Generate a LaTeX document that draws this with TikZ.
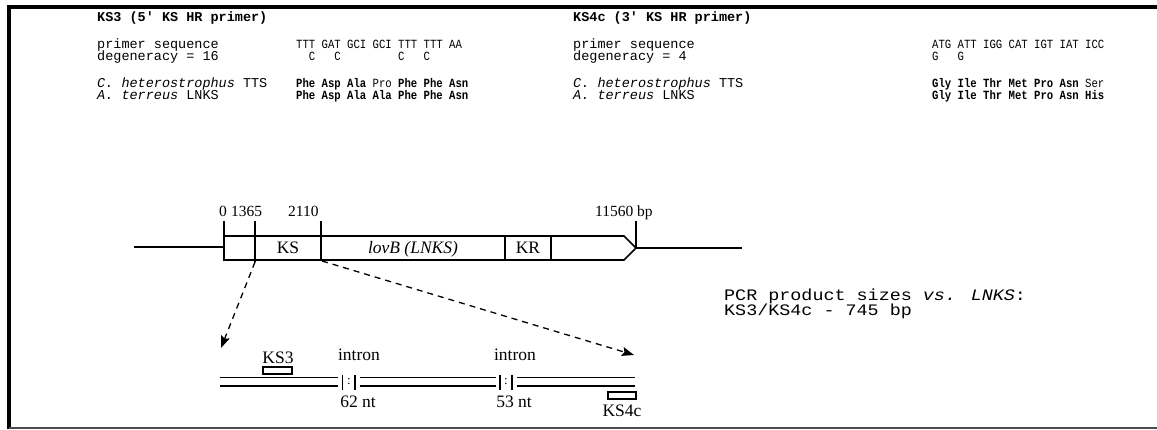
\documentclass[tikz,border=0pt]{standalone}
\usepackage{fontspec}
\setmainfont{Liberation Serif}
\newfontfamily\lmono{Liberation Mono}
\newfontfamily\smono{Liberation Mono}[FakeStretch=0.85]
\newfontfamily\wmono{Liberation Mono}[FakeStretch=1.15]
\usetikzlibrary{arrows.meta}
\begin{document}
\begin{tikzpicture}[x=1pt,y=-1pt,
  txt/.style={inner sep=0pt, anchor=base west},
  lab/.style={txt, font=\lmono\fontsize{13.5}{14}\selectfont},
  hdr/.style={txt, font=\lmono\bfseries\fontsize{13.5}{14}\selectfont},
  seq/.style={txt, font=\smono\fontsize{12.5}{14}\selectfont},
  pcr/.style={txt, font=\wmono\fontsize{16}{16}\selectfont},
  ser/.style={inner sep=0pt, anchor=base, font=\fontsize{17.5}{18}\selectfont},
  num/.style={inner sep=0pt, anchor=base west, font=\fontsize{15.5}{16}\selectfont},
  gene/.style={line width=1.6pt},
  strand/.style={line width=1.4pt},
  dasharrow/.style={line width=1.3pt, dash pattern=on 6pt off 5pt, -{Stealth[length=12pt,width=9pt,inset=2pt]}},
]
\useasboundingbox (0,0) rectangle (1157,430);
% frame
\draw[line width=4pt] (6.7,6.7) -- (1157,6.7);
\draw[line width=4pt] (8.7,4.7) -- (8.7,428.5);
\draw[line width=2pt, black!70] (8.7,427.7) -- (1157,427.7);

% left primer block
\node[hdr] (h1) at (97,22) {KS3 (5\textquotesingle{} KS HR primer)};
\node[lab] (p1) at (97,49) {primer sequence};
\node[lab] (d1) at (97,61) {degeneracy = 16};
\node[lab] (c1) at (97,88) {{\itshape C. heterostrophus} TTS};
\node[lab] (a1) at (97,100) {{\itshape A. terreus} LNKS};
\node[seq] (s1) at (296,49) {TTT GAT GCI GCI TTT TTT AA};
\node[seq] (e1) at (296,61) {\hphantom{TT}C\hphantom{TGA}C\hphantom{TGCIGCITT}C\hphantom{TTT}C};
\node[seq] (t1) at (296,88) {\bfseries Phe Asp Ala {\mdseries Pro} Phe Phe Asn};
\node[seq] (l1) at (296,100) {\bfseries Phe Asp Ala Ala Phe Phe Asn};

% right primer block
\node[hdr] (h2) at (573,22) {KS4c (3\textquotesingle{} KS HR primer)};
\node[lab] (p2) at (573,49) {primer sequence};
\node[lab] (d2) at (573,61) {degeneracy = 4};
\node[lab] (c2) at (573,88) {{\itshape C. heterostrophus} TTS};
\node[lab] (a2) at (573,100) {{\itshape A. terreus} LNKS};
\node[seq] (s2) at (932,49) {ATG ATT IGG CAT IGT IAT ICC};
\node[seq] (e2) at (932,61) {G\hphantom{TTA}G};
\node[seq] (t2) at (932,88) {\bfseries Gly Ile Thr Met Pro Asn {\mdseries Ser}};
\node[seq] (l2) at (932,100) {\bfseries Gly Ile Thr Met Pro Asn His};

% gene map
\coordinate (lineL) at (134,247);
\coordinate (boxL) at (224,247);
\coordinate (tip) at (636,248);
\coordinate (lineR) at (742,248);
\draw[gene] (lineL) -- (boxL);
\draw[gene] (tip) -- (lineR);
\draw[gene] (224,236) -- (624,236) -- (tip) -- (624,260) -- (224,260) -- cycle;
\draw[gene] (224,221) -- (224,236);
\draw[gene] (255,221) -- (255,262);
\draw[gene] (321,221) -- (321,260);
\draw[gene] (505,236) -- (505,260);
\draw[gene] (551,236) -- (551,260);
\draw[gene] (636,221) -- (tip);
\node[num] (n0) at (219,217) {0};
\node[num] (n1) at (231,217) {1365};
\node[num] (n2) at (288,217) {2110};
\node[num] (n3) at (595,217) {11560 bp};
\node[ser] (ks) at (288,254) {KS};
\node[ser] (lov) at (413,254) {\itshape lovB (LNKS)};
\node[ser] (kr) at (528,254) {KR};

% expansion arrows
\coordinate (e1s) at (255,262);
\coordinate (e1e) at (221,348);
\coordinate (e2s) at (322,261);
\coordinate (e2e) at (634,355);
\draw[dasharrow] (e1s) -- (e1e);
\draw[dasharrow] (e2s) -- (e2e);

% lower strand
\foreach \yy in {377.5,386}{
  \draw[strand] (220,\yy) -- (338,\yy);
  \draw[strand] (360,\yy) -- (496,\yy);
  \draw[strand] (517,\yy) -- (635,\yy);
}
\draw[strand] (342.7,375) -- (342.7,390);
\draw[strand] (355,375) -- (355,390);
\draw[strand] (500,375) -- (500,390);
\draw[strand] (512,375) -- (512,390);
\node[inner sep=0pt, font=\fontsize{13}{13}\selectfont] (col1) at (349,382) {:};
\node[inner sep=0pt, font=\fontsize{13}{13}\selectfont] (col2) at (506,382) {:};
\node[ser] (i1) at (359,361) {intron};
\node[ser] (i2) at (515,361) {intron};
\node[ser] (nt1) at (358,407) {62 nt};
\node[ser] (nt2) at (514,407) {53 nt};
\node[ser] (k3) at (278,363) {KS3};
\node[draw, line width=1.3pt, minimum width=29pt, minimum height=7pt, inner sep=0pt] (k3box) at (277.5,370.5) {};
\node[draw, line width=1.3pt, minimum width=28pt, minimum height=7pt, inner sep=0pt] (k4box) at (622,395.5) {};
\node[ser] (k4) at (622,416) {KS4c};

% PCR sizes
\node[pcr] (pcr1) at (724,301) {PCR product sizes {\itshape vs.} {\itshape LNKS}:};
\node[pcr] (pcr2) at (724,316) {KS3/KS4c - 745 bp};
\end{tikzpicture}
\end{document}
